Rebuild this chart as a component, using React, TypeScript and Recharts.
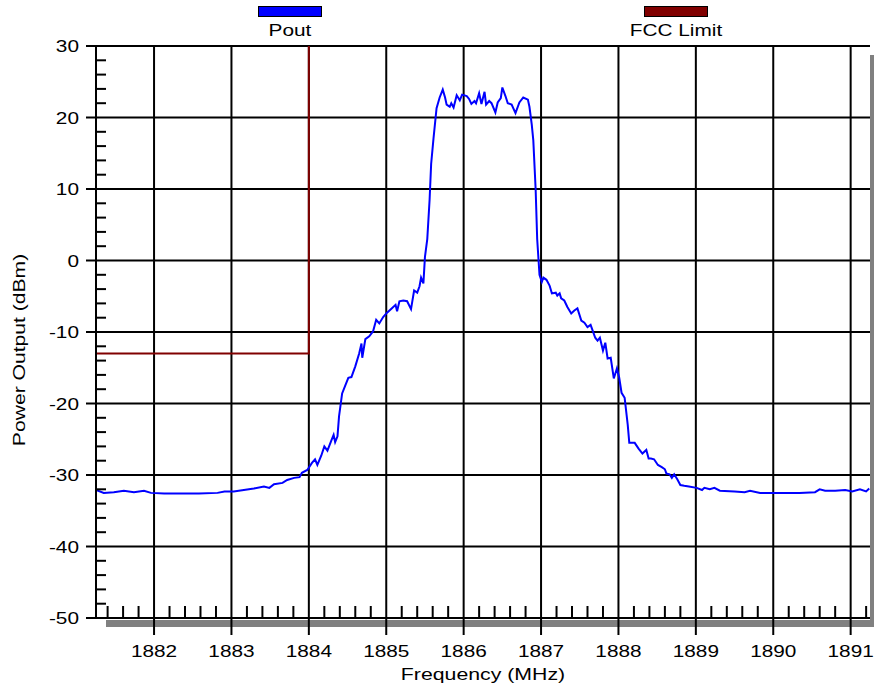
import React from 'react';
import { LineChart, Line, XAxis, YAxis, CartesianGrid, Legend } from 'recharts';

// Measured spectrum (Pout) — frequency in MHz, power in dBm
const FREQ_MHZ = [
  1881.25, 1881.35, 1881.48, 1881.61, 1881.74, 1881.87, 1881.96, 1882.13, 1882.32, 1882.58,
  1882.82, 1882.91, 1883.03, 1883.16, 1883.29, 1883.42, 1883.49, 1883.55, 1883.66, 1883.72,
  1883.81, 1883.88, 1883.91, 1883.98, 1884.04, 1884.08, 1884.11, 1884.16, 1884.2, 1884.24,
  1884.29, 1884.32, 1884.34, 1884.37, 1884.39, 1884.43, 1884.47, 1884.51, 1884.55, 1884.6,
  1884.65, 1884.68, 1884.69, 1884.73, 1884.78, 1884.83, 1884.87, 1884.91, 1884.96, 1885.01,
  1885.07, 1885.12, 1885.14, 1885.17, 1885.22, 1885.27, 1885.32, 1885.36, 1885.4, 1885.43,
  1885.45, 1885.48, 1885.5, 1885.53, 1885.56, 1885.58, 1885.61, 1885.65, 1885.69, 1885.73,
  1885.76, 1885.78, 1885.82, 1885.84, 1885.87, 1885.91, 1885.95, 1885.98, 1886.04, 1886.07,
  1886.1, 1886.14, 1886.16, 1886.2, 1886.23, 1886.27, 1886.29, 1886.33, 1886.36, 1886.41,
  1886.44, 1886.48, 1886.5, 1886.54, 1886.57, 1886.62, 1886.67, 1886.72, 1886.77, 1886.83,
  1886.85, 1886.88, 1886.9, 1886.93, 1886.95, 1886.98, 1887.01, 1887.03, 1887.07, 1887.11,
  1887.14, 1887.19, 1887.21, 1887.24, 1887.26, 1887.3, 1887.34, 1887.39, 1887.43, 1887.47,
  1887.52, 1887.56, 1887.6, 1887.64, 1887.66, 1887.7, 1887.73, 1887.76, 1887.8, 1887.83,
  1887.86, 1887.9, 1887.94, 1887.98, 1888.01, 1888.04, 1888.08, 1888.12, 1888.14, 1888.21,
  1888.26, 1888.31, 1888.36, 1888.39, 1888.42, 1888.46, 1888.51, 1888.56, 1888.6, 1888.62,
  1888.66, 1888.69, 1888.72, 1888.76, 1888.8, 1888.85, 1888.91, 1889.01, 1889.08, 1889.11,
  1889.18, 1889.24, 1889.31, 1889.5, 1889.63, 1889.7, 1889.83, 1890.09, 1890.34, 1890.54,
  1890.6, 1890.67, 1890.8, 1890.93, 1891.02, 1891.12, 1891.2, 1891.24,
];
const POUT_DBM = [
  -32.1, -32.5, -32.4, -32.2, -32.4, -32.2, -32.5, -32.6, -32.6, -32.6,
  -32.5, -32.3, -32.3, -32.1, -31.9, -31.6, -31.8, -31.3, -31.1, -30.7,
  -30.4, -30.3, -29.7, -29.3, -28.3, -27.8, -28.6, -27.3, -26.0, -26.6,
  -25.2, -24.4, -25.4, -24.6, -21.8, -18.6, -17.5, -16.4, -16.3, -14.8,
  -13.0, -11.6, -13.6, -11.0, -10.6, -9.9, -8.3, -8.8, -7.9, -7.3,
  -6.7, -6.2, -7.1, -5.7, -5.6, -5.7, -6.8, -4.2, -4.5, -3.6,
  -2.4, -3.2, 0.5, 3.0, 8.5, 13.5, 17.0, 21.3, 22.8, 23.9,
  22.8, 21.8, 21.5, 22.0, 21.4, 23.1, 22.4, 23.2, 23.0, 22.6,
  21.9, 22.3, 22.0, 23.4, 21.9, 23.6, 21.8, 22.3, 22.0, 20.7,
  22.1, 22.7, 24.2, 23.0, 22.0, 21.8, 20.6, 22.1, 22.8, 22.5,
  21.5, 19.0, 16.8, 10.0, 3.0, -2.0, -3.0, -2.4, -2.7, -3.5,
  -4.6, -4.5, -4.9, -4.6, -5.3, -5.6, -6.5, -7.4, -7.0, -6.7,
  -8.4, -8.7, -9.3, -9.0, -9.6, -10.8, -11.2, -10.8, -12.6, -11.5,
  -13.7, -13.6, -16.5, -15.1, -16.4, -18.5, -19.2, -23.0, -25.5, -25.5,
  -26.3, -27.0, -26.5, -27.7, -27.7, -27.8, -28.6, -28.9, -29.2, -29.8,
  -29.9, -30.4, -29.9, -30.6, -31.4, -31.5, -31.6, -31.8, -32.1, -31.8,
  -32.0, -31.8, -32.2, -32.3, -32.4, -32.2, -32.5, -32.5, -32.5, -32.4,
  -32.0, -32.2, -32.2, -32.1, -32.3, -32.0, -32.3, -31.9,
];

// FCC limit mask
const FCC_FREQ = [1881.25, 1884, 1884];
const FCC_DBM = [-13, -13, 30];

// Axis ticks
const X_MAJOR = [1882, 1883, 1884, 1885, 1886, 1887, 1888, 1889, 1890, 1891];
const Y_MAJOR = [-50, -40, -30, -20, -10, 0, 10, 20, 30];
const X_DOMAIN: [number, number] = [1881.25, 1891.25];
const Y_DOMAIN: [number, number] = [-50, 30];

const X_MINOR_STEP = 0.2;
const Y_MINOR_STEP = 2;

const SERIES_NAMES = ['Pout', 'FCC Limit'];

const poutData = FREQ_MHZ.map((f, i) => ({ f, v: POUT_DBM[i] }));
const fccData = FCC_FREQ.map((f, i) => ({ f, v: FCC_DBM[i] }));

const xTicks: number[] = [];
for (let k = Math.ceil(X_DOMAIN[0] / X_MINOR_STEP); k * X_MINOR_STEP <= X_DOMAIN[1] + 1e-9; k++) {
  xTicks.push(Math.round(k * X_MINOR_STEP * 10) / 10);
}
const yTicks: number[] = [];
for (let v = Y_DOMAIN[0]; v <= Y_DOMAIN[1]; v += Y_MINOR_STEP) yTicks.push(v);

const FONT = '"Liberation Sans", Arial, sans-serif';
const STRETCH = 1.3;

const XTick = (props: any) => {
  const { x, y, payload } = props;
  const v = payload.value;
  const major = X_MAJOR.some((m) => Math.abs(m - v) < 1e-6);
  if (major) {
    return (
      <g>
        <line x1={x} y1={y} x2={x} y2={y + 17} stroke="#000" strokeWidth={2} />
        <text
          transform={`translate(${x},${y + 39}) scale(${STRETCH},1)`}
          textAnchor="middle"
          fontFamily={FONT}
          fontSize={16}
          fill="#000"
        >
          {v}
        </text>
      </g>
    );
  }
  return <line x1={x} y1={y} x2={x} y2={y - 12} stroke="#000" strokeWidth={2} />;
};

const YTick = (props: any) => {
  const { x, y, payload } = props;
  const v = payload.value;
  const major = Y_MAJOR.includes(v);
  if (major) {
    return (
      <g>
        <line x1={x - 10} y1={y} x2={x} y2={y} stroke="#000" strokeWidth={2} />
        <text
          transform={`translate(${x - 17},${y + 6}) scale(${STRETCH},1)`}
          textAnchor="end"
          fontFamily={FONT}
          fontSize={16}
          fill="#000"
        >
          {v}
        </text>
      </g>
    );
  }
  return <line x1={x} y1={y} x2={x + 10} y2={y} stroke="#000" strokeWidth={2} />;
};

const XTitle = (props: any) => {
  const vb = props.viewBox || { x: 96, y: 618, width: 774, height: 74 };
  const cx = vb.x + vb.width / 2;
  return (
    <text
      transform={`translate(${cx},${vb.y + 62}) scale(1.33,1)`}
      textAnchor="middle"
      fontFamily={FONT}
      fontSize={16}
      fill="#000"
    >
      Frequency (MHz)
    </text>
  );
};

const YTitle = (props: any) => {
  const vb = props.viewBox || { x: 0, y: 46, width: 96, height: 572 };
  const cy = vb.y + vb.height / 2 + 18;
  return (
    <text
      transform={`translate(${vb.x + 25},${cy}) rotate(-90) scale(1.32,1)`}
      textAnchor="middle"
      fontFamily={FONT}
      fontSize={16}
      fill="#000"
    >
      Power Output (dBm)
    </text>
  );
};

const LEGEND_CENTERS = [290, 676];

const renderLegend = (props: any) => {
  const payload = props.payload || [];
  return (
    <div style={{ position: 'relative', width: 874, height: 0 }}>
      {payload.map((e: any) => {
        const idx = Math.max(0, SERIES_NAMES.indexOf(e.value));
        return (
          <div key={e.value} style={{ position: 'absolute', left: LEGEND_CENTERS[idx] - 60, top: 0, width: 120 }}>
            <div
              style={{
                position: 'absolute',
                left: 28,
                top: 6,
                width: 62,
                height: 9,
                background: e.color,
                border: '1px solid #000',
              }}
            />
            <div
              style={{
                position: 'absolute',
                left: 0,
                top: 22,
                width: 120,
                textAlign: 'center',
                fontFamily: FONT,
                fontSize: 16,
                lineHeight: '18px',
                color: '#000',
                transform: `scale(${STRETCH},1)`,
              }}
            >
              {e.value}
            </div>
          </div>
        );
      })}
    </div>
  );
};

export default function App() {
  return (
    <div style={{ position: 'absolute', left: 0, top: 0, width: 874, height: 692, background: '#fff' }}>
      <div style={{ position: 'absolute', left: 106, top: 620, width: 768, height: 7, background: '#808080' }} />
      <div style={{ position: 'absolute', left: 870, top: 55, width: 4, height: 572, background: '#808080' }} />
      <div style={{ position: 'absolute', left: 0, top: 0 }}>
        <LineChart width={874} height={692} margin={{ top: 46, right: 4, bottom: 0, left: 0 }}>
          <CartesianGrid
            stroke="#000"
            strokeWidth={2}
            horizontalValues={Y_MAJOR.filter((v) => v > Y_DOMAIN[0])}
            verticalValues={X_MAJOR}
          />
          <XAxis
            type="number"
            dataKey="f"
            domain={X_DOMAIN}
            ticks={xTicks}
            interval={0}
            allowDataOverflow
            height={74}
            tickSize={0}
            tickMargin={0}
            tickLine={false}
            tick={<XTick />}
            axisLine={{ stroke: '#000', strokeWidth: 2 }}
            label={{ content: <XTitle /> }}
          />
          <YAxis
            type="number"
            dataKey="v"
            domain={Y_DOMAIN}
            ticks={yTicks}
            interval={0}
            allowDataOverflow
            width={96}
            tickSize={0}
            tickMargin={0}
            tickLine={false}
            tick={<YTick />}
            axisLine={{ stroke: '#000', strokeWidth: 2 }}
            label={{ content: <YTitle /> }}
          />
          <Legend
            verticalAlign="top"
            align="left"
            content={renderLegend}
            wrapperStyle={{ top: 0, left: 0, width: 874, height: 0 }}
          />
          <Line
            data={poutData}
            dataKey="v"
            name={SERIES_NAMES[0]}
            type="linear"
            stroke="#0000FF"
            strokeWidth={2}
            dot={false}
            isAnimationActive={false}
          />
          <Line
            data={fccData}
            dataKey="v"
            name={SERIES_NAMES[1]}
            type="linear"
            stroke="#800000"
            strokeWidth={2}
            dot={false}
            isAnimationActive={false}
          />
        </LineChart>
      </div>
    </div>
  );
}
